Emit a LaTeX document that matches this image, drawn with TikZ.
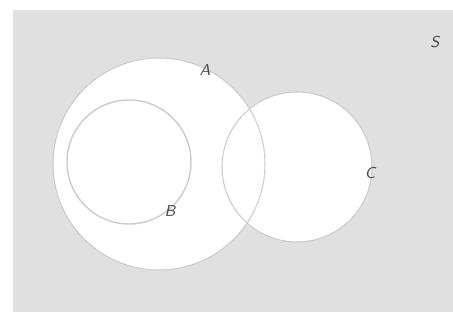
\documentclass[tikz,border=0pt]{standalone}
\usepackage{tikz}
\usetikzlibrary{calc,positioning}
\definecolor{sheet}{gray}{0.88}
\definecolor{rim}{gray}{0.80}
\definecolor{ink}{gray}{0.30}

\begin{document}
\begin{tikzpicture}[lbl/.style = {color = ink, font = \sffamily\itshape\small, inner sep = 0pt}]
	\useasboundingbox (0,0) rectangle (9.06,6.44);
	\fill[white] (0,0) rectangle (9.06,6.44);
	
	\fill[sheet] (0.26,0.20) rectangle (9.06,6.24);
	
	\fill[white] (3.18,3.16) circle (2.12);
	\fill[white] (5.94,3.10) circle (1.50);
	
	\draw[rim, line width = 0.6pt] (3.18,3.16) circle (2.12);
	\draw[rim, line width = 0.8pt] (2.58,3.20) circle (1.24);
	\draw[rim, line width = 0.6pt] (5.94,3.10) circle (1.50);
	
	\node (A) at (4.10, 5.04) [lbl] {A};
	\node (B) at (3.40, 2.22) [lbl] {B};
	\node (C) at (7.40, 2.98) [lbl] {C};
	\node (S) at (8.70, 5.60) [lbl] {S};
	
\end{tikzpicture}
\end{document}
